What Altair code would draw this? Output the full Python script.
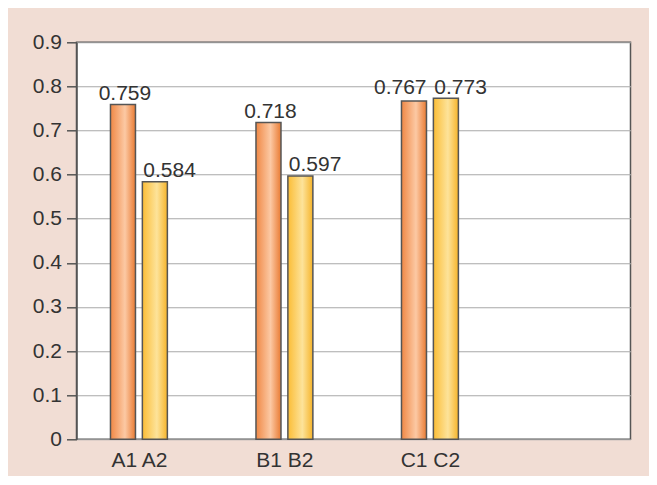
import json
import altair as alt
import pandas as pd

# ---- data ----
groups = ["A", "B", "C"]
group_labels = ["A1 A2", "B1 B2", "C1 C2"]
values_1 = [0.759, 0.718, 0.767]
values_2 = [0.584, 0.597, 0.773]
y_ticks = [0, 0.1, 0.2, 0.3, 0.4, 0.5, 0.6, 0.7, 0.8, 0.9]

rows = []
for i, g in enumerate(groups):
    rows.append({"gi": i, "group": g, "series": 1, "value": values_1[i]})
    rows.append({"gi": i, "group": g, "series": 2, "value": values_2[i]})
df = pd.DataFrame(rows)

FONT = "Liberation Sans"
FS = 21
STEP_PX = 148.25          # pixels per group unit
OFFSET = 16.25 / STEP_PX  # half distance between paired bar centres
x_scale = alt.Scale(domain=[-0.3946, 3.344], nice=False, zero=False)
y_scale = alt.Scale(domain=[0, 0.9], nice=False)

label_expr = json.dumps(group_labels) + "[datum.value]"

base = alt.Chart(df).transform_calculate(
    xpos=f"datum.gi + (datum.series - 1.5) * {2 * OFFSET}"
)

x_enc = alt.X(
    "xpos:Q",
    scale=x_scale,
    axis=alt.Axis(
        values=[0, 1, 2],
        labelExpr=label_expr,
        ticks=False,
        domain=False,
        grid=False,
        title=None,
        labelFontSize=FS,
        labelFont=FONT,
        labelColor="#333333",
        labelPadding=10,
    ),
)
y_enc = alt.Y(
    "value:Q",
    scale=y_scale,
    axis=alt.Axis(
        values=y_ticks,
        format=".1~f",
        title=None,
        labelFontSize=FS,
        labelFont=FONT,
        labelColor="#333333",
        labelPadding=5,
        tickSize=10,
        tickColor="#555555",
        tickWidth=1.5,
        domainColor="#555555",
        domainWidth=1.5,
        gridColor="#a8a8a8",
        gridWidth=1.1,
    ),
)

orange = alt.Gradient(
    gradient="linear",
    x1=0, x2=1, y1=0, y2=0,
    stops=[
        alt.GradientStop(color="#f08845", offset=0),
        alt.GradientStop(color="#fcc9a4", offset=0.58),
        alt.GradientStop(color="#e97b33", offset=1),
    ],
)
yellow = alt.Gradient(
    gradient="linear",
    x1=0, x2=1, y1=0, y2=0,
    stops=[
        alt.GradientStop(color="#fbbd36", offset=0),
        alt.GradientStop(color="#fde39a", offset=0.58),
        alt.GradientStop(color="#f6b42a", offset=1),
    ],
)

bars1 = base.transform_filter("datum.series == 1").mark_bar(
    width=25, fill=orange, stroke="#555555", strokeWidth=1.5
).encode(x=x_enc, y=y_enc)
bars2 = base.transform_filter("datum.series == 2").mark_bar(
    width=25, fill=yellow, stroke="#555555", strokeWidth=1.5
).encode(x=x_enc, y=y_enc)

# value labels: nudged sideways, and lifted to the pair's top when the two values are close
labels = base.transform_joinaggregate(
    vmax="max(value)", vmin="min(value)", groupby=["gi"]
).transform_calculate(
    close="datum.vmax - datum.vmin < 0.05",
    lx=(
        f"datum.xpos + (datum.series == 2 ? 15 : (datum.close ? -14 : 2)) / {STEP_PX}"
    ),
    ly="datum.close ? datum.vmax : datum.value",
).mark_text(
    font=FONT, fontSize=FS, color="#333333", baseline="alphabetic", dy=-4.5
).encode(
    x=alt.X("lx:Q", scale=x_scale),
    y=alt.Y("ly:Q", scale=y_scale),
    text=alt.Text("value:Q", format=".3f"),
)

chart = alt.layer(bars1, bars2, labels).properties(
    width=554,
    height=397,
    background="#f1ddd4",
    autosize=alt.AutoSizeParams(type="none"),
    padding={"left": 68.5, "top": 34.3, "right": 18, "bottom": 37},
).configure_view(
    fill="white", stroke="#555555", strokeWidth=1.5
)

chart.save("out.html", embed_options={"renderer": "svg", "actions": False})
